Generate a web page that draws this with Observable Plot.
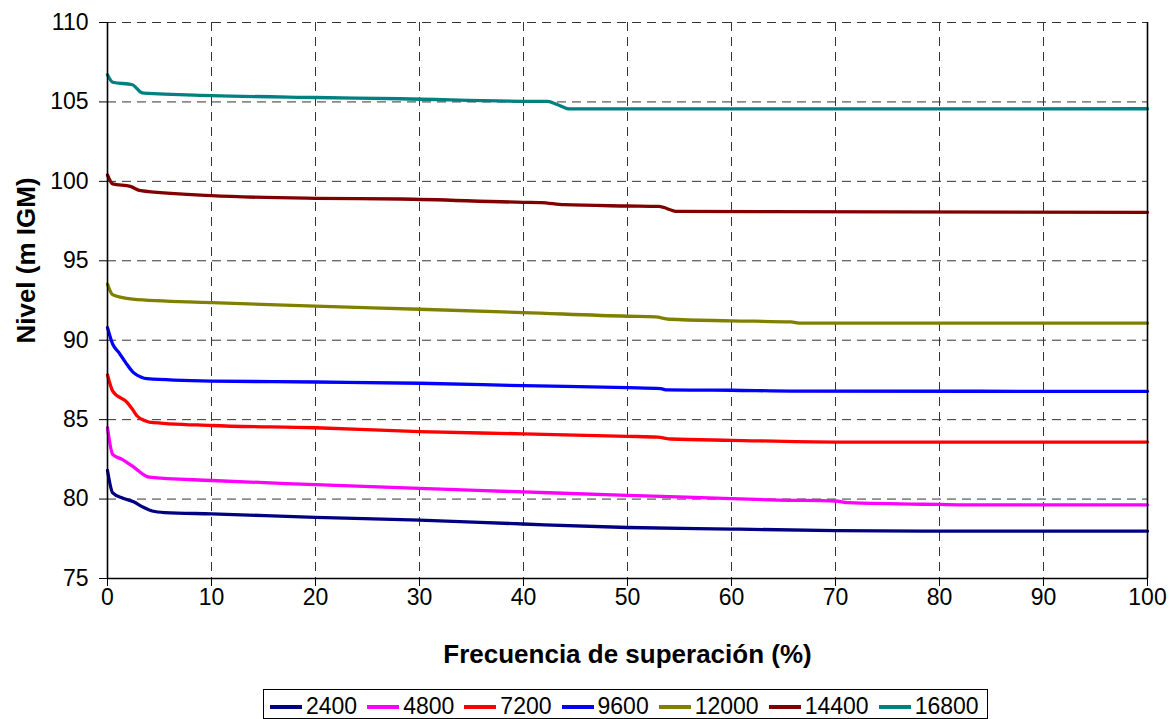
<!DOCTYPE html>
<html>
<head>
<meta charset="utf-8">
<script src="https://cdn.jsdelivr.net/npm/d3@7"></script>
<script src="https://cdn.jsdelivr.net/npm/@observablehq/plot@0.6"></script>
<style>
  body { margin: 0; background: #fff; font-family: "Liberation Sans", Arial, sans-serif; }
  #chart { position: relative; width: 1174px; height: 719px; overflow: hidden; }
  #chart svg { position: absolute; left: 0; top: 0; }
  #legend {
    position: absolute; left: 263px; top: 689px; height: 30px;
    box-sizing: border-box; border: 1px solid #000; background: #fff;
    padding: 5px 6px 0 6px; display: flex; align-items: center;
  }
  .item { display: flex; align-items: center; margin-right: 10px; height: 23px; }
  .item:last-child { margin-right: 2px; }
  .swatch { width: 32px; height: 4px; margin-right: 4px; }
  .lbl { font-size: 23px; line-height: 23px; color: #000; }
</style>
</head>
<body>
<div id="chart"><div id="legend"></div></div>
<script>
// Caudal de cada curva (m3/s) y su color
const series = ["2400", "4800", "7200", "9600", "12000", "14400", "16800"];
const colors = ["#000080", "#ff00ff", "#ff0000", "#0000ff", "#808000", "#800000", "#008080"];

// Curvas de permanencia: frecuencia de superación (%) y nivel (m IGM)
const freq2400  = [0, 0.5, 1.5, 2.5, 3.4, 4.3, 5.5, 10, 20, 30, 40, 50, 60, 70, 80, 100];
const nivel2400 = [81.80, 80.39, 80.05, 79.83, 79.50, 79.25, 79.15, 79.07, 78.85, 78.68, 78.43, 78.21, 78.11, 78.02, 77.98, 77.98];

const freq4800  = [0, 0.5, 1.4, 2.4, 4.0, 10, 20, 30, 40, 50, 60, 64.4, 70, 71.2, 80, 82.7, 100];
const nivel4800 = [84.49, 82.81, 82.50, 82.07, 81.38, 81.17, 80.91, 80.67, 80.45, 80.23, 80.03, 79.94, 79.88, 79.77, 79.66, 79.64, 79.64];

const freq7200  = [0, 0.5, 1.9, 2.4, 2.85, 3.7, 4.0, 10, 20, 30, 40, 50, 52.9, 54.2, 60, 70, 100];
const nivel7200 = [87.81, 86.80, 86.07, 85.65, 85.23, 84.91, 84.85, 84.63, 84.49, 84.24, 84.11, 83.95, 83.90, 83.78, 83.70, 83.59, 83.59];

const freq9600  = [0, 0.5, 1.1, 1.75, 2.5, 3.2, 3.8, 10, 20, 30, 40, 50, 53.2, 53.8, 60, 65.7, 100];
const nivel9600 = [90.79, 89.75, 89.22, 88.59, 87.96, 87.69, 87.58, 87.43, 87.37, 87.29, 87.14, 87.01, 86.95, 86.87, 86.85, 86.80, 86.78];

const freq12000  = [0, 0.5, 2.4, 10, 20, 30, 40, 50, 52.7, 54, 60, 65.7, 66.7, 100];
const nivel12000 = [93.53, 92.86, 92.59, 92.37, 92.14, 91.95, 91.74, 91.51, 91.47, 91.32, 91.22, 91.15, 91.07, 91.07];

const freq14400  = [0, 0.5, 2.2, 3.2, 10, 20, 28.2, 40, 41.7, 43.9, 50, 53.0, 54.8, 100];
const nivel14400 = [100.40, 99.84, 99.68, 99.41, 99.10, 98.93, 98.89, 98.68, 98.66, 98.53, 98.45, 98.42, 98.11, 98.05];

const freq16800  = [0, 0.5, 2.4, 2.7, 3.2, 3.5, 10, 20, 28.2, 40, 42.3, 43.3, 44.4, 100];
const nivel16800 = [106.71, 106.24, 106.08, 105.93, 105.61, 105.55, 105.40, 105.28, 105.20, 105.04, 105.03, 104.82, 104.56, 104.57];

// Ejes y rejilla
const xTicks = [0, 10, 20, 30, 40, 50, 60, 70, 80, 90, 100];
const yTicks = [75, 80, 85, 90, 95, 100, 105, 110];
const xGrid = [10, 20, 30, 40, 50, 60, 70, 80, 90];
const yGrid = [80, 85, 90, 95, 100, 105, 110];
const xTitle = "Frecuencia de superación (%)";
const yTitle = "Nivel (m IGM)";

const freqs  = [freq2400, freq4800, freq7200, freq9600, freq12000, freq14400, freq16800];
const nivels = [nivel2400, nivel4800, nivel7200, nivel9600, nivel12000, nivel14400, nivel16800];

const rows = series.flatMap((s, i) =>
  freqs[i].map((f, j) => ({serie: s, freq: f, nivel: nivels[i][j]}))
);

const chart = Plot.plot({
  width: 1174,
  height: 680,
  marginLeft: 107,
  marginRight: 27,
  marginTop: 22,
  marginBottom: 102,
  x: {domain: [0, 100]},
  y: {domain: [75, 110]},
  color: {domain: series, range: colors},
  style: {fontFamily: '"Liberation Sans", Arial, sans-serif', fontSize: "23px", color: "#000", background: "#fff"},
  marks: [
    Plot.ruleY(yGrid, {stroke: "#333", strokeWidth: 1, strokeDasharray: "9,6"}),
    Plot.ruleX(xGrid, {stroke: "#333", strokeWidth: 1, strokeDasharray: "9,6"}),
    Plot.line(rows, {x: "freq", y: "nivel", z: "serie", stroke: "serie", strokeWidth: 3.3, curve: "monotone-x"}),
    Plot.ruleX([0, 100], {stroke: "#000", strokeWidth: 1.6}),
    Plot.ruleY([75], {stroke: "#000", strokeWidth: 1.6}),
    Plot.axisX({ticks: xTicks, tickSize: 8, tickPadding: 2, label: null, fontSize: 23}),
    Plot.axisY({ticks: yTicks, tickSize: 8, tickPadding: 11, label: null, fontSize: 23}),
    Plot.text([xTitle], {text: d => d, frameAnchor: "bottom", lineAnchor: "middle", textAnchor: "middle", dy: 76, fontWeight: "bold", fontSize: 26}),
    Plot.text([yTitle], {text: d => d, frameAnchor: "left", lineAnchor: "middle", textAnchor: "middle", dx: -81, dy: -40, rotate: -90, fontWeight: "bold", fontSize: 26})
  ]
});

const root = document.getElementById("chart");
root.insertBefore(chart, root.firstChild);

// Leyenda en recuadro bajo el gráfico
const legend = document.getElementById("legend");
series.forEach((s, i) => {
  const item = document.createElement("div");
  item.className = "item";
  const sw = document.createElement("span");
  sw.className = "swatch";
  sw.style.background = colors[i];
  const lb = document.createElement("span");
  lb.className = "lbl";
  lb.textContent = s;
  item.append(sw, lb);
  legend.append(item);
});
</script>
</body>
</html>
